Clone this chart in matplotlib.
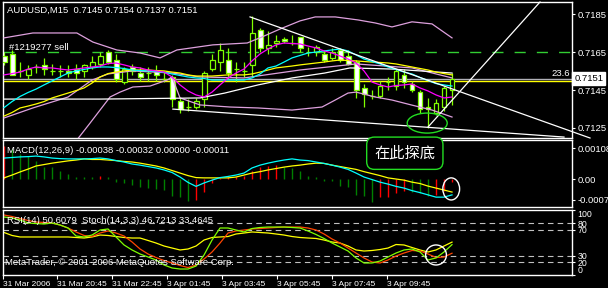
import numpy as np
import matplotlib
matplotlib.use("Agg")
import matplotlib.pyplot as plt
from matplotlib.patches import Ellipse

plt.rcParams['font.family'] = ['Liberation Sans', 'DejaVu Sans']
plt.rcParams['lines.scale_dashes'] = False

# AUDUSD M15 candles
opens = [.7163, .7164, .7155, .7153, .7157, .7158, .7155, .7155, .7155, .7156,
         .7155, .7157, .7159, .7165, .7161, .7149, .7157, .7154, .7154, .7155,
         .7151, .7152, .7139, .7136, .7136, .7140, .7156, .7160, .7161, .7156,
         .7155, .7158, .7177, .7167, .7170, .7172, .7170, .7173, .7165, .7165,
         .7164, .7162, .7166, .7163, .7160, .7146, .7142, .7142, .7149, .7147,
         .7153, .7148, .7144, .7136, .7133, .7136, .7145]
highs = [.7165, .7166, .7160, .7158, .7159, .7162, .7159, .7158, .7158, .7159,
         .7159, .7163, .7165, .7166, .7164, .7157, .7159, .7157, .7157, .7158,
         .7155, .7153, .7141, .7140, .7141, .7155, .7164, .7170, .7167, .7160,
         .7160, .7184, .7178, .7176, .7174, .7173, .7174, .7173, .7168, .7169,
         .7166, .7167, .7167, .7166, .7161, .7148, .7145, .7150, .7152, .7156,
         .7156, .7150, .7145, .7141, .7140, .7147, .7154]
lows = [.7158, .7153, .7152, .7151, .7154, .7153, .7153, .7152, .7152, .7151,
        .7152, .7156, .7157, .7159, .7149, .7148, .7153, .7150, .7150, .7150,
        .7149, .7136, .7133, .7134, .7135, .7136, .7155, .7155, .7151, .7149,
        .7152, .7152, .7165, .7164, .7168, .7170, .7169, .7165, .7163, .7163,
        .7160, .7161, .7160, .7158, .7141, .7136, .7140, .7141, .7145, .7145,
        .7146, .7144, .7133, .7125, .7132, .7134, .7137]
closes = [.7160, .7153, .7155, .7156, .7157, .7156, .7155, .7155, .7154, .7154,
          .7158, .7160, .7163, .7160, .7151, .7156, .7155, .7152, .7154, .7153,
          .7151, .7140, .7135, .7136, .7139, .7154, .7161, .7166, .7154, .7156,
          .7155, .7175, .7167, .7169, .7171, .7171, .7170, .7167, .7165, .7168,
          .7161, .7165, .7161, .7159, .7145, .7143, .7142, .7147, .7149, .7155,
          .7149, .7145, .7135, .7135, .7138, .7146, .7151]

# moving averages on the price chart
ma_magenta = [.71530, .71537, .71545, .71561, .71572, .71567, .71567, .71561, .71556, .71561,
              .71567, .71572, .71577, .71590, .71593, .71583, .71572, .71567, .71556, .71551,
              .71545, .71519, .71477, .71445, .71424, .71413, .71439, .71477, .71514, .71540,
              .71561, .71604, .71641, .71667, .71689, .71699, .71696, .71694, .71683, .71673,
              .71657, .71646, .71630, .71614, .71593, .71551, .71492, .71477, .71466, .71474,
              .71477, .71482, .71461, .71445, .71424, .71408, .71413]
ma_cyan = [.71357, .71389, .71416, .71437, .71455, .71477, .71498, .71519, .71540, .71551,
           .71559, .71567, .71572, .71572, .71569, .71564, .71556, .71553, .71551, .71548,
           .71543, .71535, .71527, .71519, .71514, .71511, .71503, .71503, .71503, .71503,
           .71503, .71514, .71535, .71567, .71577, .71598, .71620, .71633, .71646, .71651,
           .71657, .71662, .71667, .71657, .71636, .71614, .71601, .71588, .71572, .71559,
           .71545, .71535, .71516, .71500, .71484, .71477, .71471]
ma_yellow = [.71312, .71331, .71355, .71365, .71376, .71389, .71408, .71421, .71434, .71447,
             .71461, .71487, .71519, .71537, .71545, .71551, .71556, .71556, .71556, .71553,
             .71551, .71545, .71540, .71530, .71524, .71524, .71524, .71527, .71530, .71530,
             .71530, .71535, .71545, .71556, .71567, .71572, .71577, .71583, .71588, .71593,
             .71598, .71604, .71609, .71606, .71604, .71601, .71598, .71596, .71593, .71588,
             .71580, .71572, .71564, .71556, .71545, .71537, .71530]
plum_bar = [0, 3.6, 8, 11, 13, 16, 21, 24.5, 30, 37, 44, 51, 56]
plum_val = [.71302, .71355, .71413, .71503, .71535, .71551, .71540, .71519, .71514,
            .71556, .71588, .71567, .71514]
white_bar = [0, 12, 24.5, 27.6, 31.75, 36, 40.1, 43.25, 48.5, 56]
white_val = [.71402, .71402, .71408, .71434, .71477, .71514, .71540, .71567, .71561, .71540]
bb_up_bar = [0, 3.6, 7.4, 9.1, 11.1, 14.1, 17, 19.5, 21.6, 26.1, 30.4, 32.25, 34.5, 37,
             38.9, 41.4, 44.25, 46.4, 48.5, 51, 53.5, 56]
bb_up_val = [.71726, .71752, .71752, .71752, .71704, .71662, .71646, .71620, .71662, .71689,
             .71699, .71731, .71773, .71816, .71837, .71837, .71821, .71805, .71784, .71811,
             .71800, .71726]
bb_lo_bar = [9, 10.75, 12, 13.25, 14.5, 16.1, 18.25, 20.4, 21, 22, 24.5, 28.25, 31.75, 36,
             39.75, 41.4, 43, 44, 46.4, 48.5, 51, 53.5, 56]
bb_lo_val = [.71180, .71275, .71344, .71413, .71439, .71466, .71471, .71503, .71519, .71408,
             .71371, .71360, .71355, .71344, .71360, .71397, .71434, .71439, .71413, .71397,
             .71370, .71344, .71307]

sell_price = 0.7165
bid_price = 0.7151
fibo_price = 0.7150

# trend lines drawn on the chart (bar, price) pairs
down_line = ([30.75, 73.25], [0.71837, 0.71196])
low_line = ([21.1, 70.0], [0.71349, 0.71201])
steep_line = ([53.0, 67.0], [0.71254, 0.71916])

# MACD(12,26,9)
macd_main = [74, 76, 78, 79, 81, 78, 74, 72, 71, 71, 71, 72, 74, 71, 65, 60, 53, 49, 44, 39,
             32, 23, 7, -12, -26, -14, -4, 5, 9, 14, 21, 39, 49, 56, 62, 67, 71, 67, 65, 60,
             55, 49, 42, 34, 21, 7, -2, -11, -18, -26, -32, -41, -48, -56, -64, -64, -56]
macd_signal = [4, 14, 25, 35, 46, 51, 56, 60, 64, 67, 71, 69, 69, 67, 65, 62, 60, 56, 51, 46,
               39, 30, 21, 12, 5, 4, 4, 4, 4, 7, 14, 21, 26, 32, 37, 42, 46, 49, 53, 56,
               55, 49, 44, 39, 34, 26, 19, 12, 4, 0, -4, -11, -16, -25, -32, -39, -46]
macd_hist = [116, 106, 88, 81, 64, 42, 42, 28, 18, 8, 8, 8, 11, 8, -10, -15, -21, -27, -32, -35,
             -39, -59, -65, -77, -74, -47, -14, 4, 6, 8, 12, 29, 41, 47, 50, 41, 38, 30, 11, 8,
             -6, -8, -24, -29, -56, -59, -82, -65, -62, -51, -44, -46, -49, -59, -55, -41, -11]

# RSI(14) and Stoch(14,3,3)
rsi = [65.4, 60.8, 58.5, 58.5, 58.5, 58.5, 58.5, 58.5, 58.5, 57.7,
       56.9, 58.5, 61.5, 60.8, 59.2, 57.7, 56.9, 56.9, 53.1, 49.2,
       44.6, 41.5, 38.5, 40.0, 44.6, 53.8, 57.7, 58.5, 59.2, 63.1,
       64.6, 66.2, 65.4, 64.6, 63.1, 61.5, 59.2, 57.7, 56.9, 56.2,
       53.8, 50.8, 49.2, 44.6, 38.5, 36.9, 37.7, 39.2, 41.5, 46.9,
       46.2, 42.3, 38.5, 35.4, 38.5, 44.6, 50.6]
stoch_main = [89.2, 87.7, 84.6, 80.0, 79.2, 78.5, 80.0, 76.9, 72.3, 60.0,
              58.5, 61.5, 69.2, 70.8, 58.5, 46.2, 38.5, 32.3, 27.7, 23.1,
              15.4, 10.8, 9.2, 9.2, 13.8, 30.8, 53.8, 72.3, 72.3, 69.2,
              66.2, 71.5, 73.1, 73.8, 73.8, 73.8, 73.1, 72.3, 67.7, 62.3,
              56.2, 49.2, 43.1, 36.9, 26.2, 18.5, 18.5, 21.5, 27.7, 33.8,
              38.5, 40.0, 35.4, 23.1, 26.2, 35.4, 46.7]
stoch_signal = [92.3, 90.0, 86.9, 83.8, 81.5, 80.8, 80.0, 76.9, 72.3, 66.2,
                60.8, 59.2, 64.6, 67.7, 64.6, 60.0, 50.8, 40.0, 32.3, 26.9,
                22.3, 18.5, 14.6, 11.5, 15.4, 24.6, 35.4, 49.2, 64.6, 67.7,
                69.2, 70.8, 71.5, 72.3, 73.1, 73.8, 73.8, 73.8, 72.3, 69.2,
                63.1, 55.4, 49.2, 41.5, 33.8, 26.2, 20.0, 18.5, 23.1, 29.2,
                33.8, 37.7, 36.9, 32.3, 26.9, 27.7, 33.5]
rsi_levels = [80, 70, 30, 20]

time_ticks = [-0.16, 6.59, 13.46, 20.34, 27.21, 34.09, 41.04, 47.91]
time_labels = ['31 Mar 2006', '31 Mar 20:45', '31 Mar 22:45', '3 Apr 01:45',
               '3 Apr 03:45', '3 Apr 05:45', '3 Apr 07:45', '3 Apr 09:45']

LIME = '#80FF00'
FS = 6.8

W, H = 608, 288
def box(l, t, r, b):
    return [l / W, 1 - b / H, (r - l) / W, (b - t) / H]

fig = plt.figure(figsize=(6.08, 2.88), dpi=100, facecolor='black')
ax1 = fig.add_axes(box(2.7, 2, 572, 138))
ax2 = fig.add_axes(box(2.7, 140, 572, 207))
ax3 = fig.add_axes(box(2.7, 210, 572, 275))

for ax in (ax1, ax2, ax3):
    ax.set_facecolor('black')
    for s in ax.spines.values():
        s.set_color('white')
        s.set_linewidth(1.0)
    ax.set_xlim(-0.17, 71.0)
    ax.yaxis.tick_right()
    ax.tick_params(axis='y', colors='white', labelsize=FS, length=2.5, width=0.8,
                   direction='out', pad=1.5)
    ax.tick_params(axis='x', bottom=False, labelbottom=False)

x = np.arange(len(opens))

# ---- price chart ----
ax1.set_ylim(0.71196, 0.71916)
ax1.axhline(sell_price, color='#32CD32', lw=1, dashes=(8, 8), zorder=1)
ax1.axhline(fibo_price, color='#FFFF00', lw=1, zorder=1)
ax1.axhline(bid_price, color='#B0B0B8', lw=1, zorder=1)

o = np.array(opens); c = np.array(closes)
ax1.vlines(x, lows, highs, color=LIME, lw=0.9, zorder=2)
bull = c >= o
ax1.bar(x, np.abs(c - o), bottom=np.minimum(o, c), width=0.62,
        color=np.where(bull, 'black', 'white'), edgecolor=LIME, linewidth=0.9, zorder=3)

ax1.plot(bb_up_bar, bb_up_val, color='#DDA0DD', lw=0.9, zorder=4)
ax1.plot(bb_lo_bar, bb_lo_val, color='#DDA0DD', lw=0.9, zorder=4)
ax1.plot(plum_bar, plum_val, color='#DDA0DD', lw=0.9, zorder=4)
ax1.plot(white_bar, white_val, color='white', lw=0.9, zorder=4)
ax1.plot(x, ma_yellow, color='#FFFF00', lw=0.9, zorder=4)
ax1.plot(x, ma_cyan, color='#00FFFF', lw=0.9, zorder=4)
ax1.plot(x, ma_magenta, color='#FF00FF', lw=0.9, zorder=4)
ax1.plot(*down_line, color='white', lw=0.9, zorder=6, clip_on=False)
ax1.plot(*low_line, color='white', lw=0.9, zorder=4)
ax1.plot(*steep_line, color='white', lw=0.9, zorder=6, clip_on=False)
ax1.add_patch(Ellipse((52.9, 0.71275), 5.0, 0.00106, fill=False, ec='#22DD22', lw=1, zorder=6))

ax1.set_yticks([0.7185, 0.7165, 0.7145, 0.7125])
ax1.set_yticklabels(['0.7185', '0.7165', '0.7145', '0.7125'])
ax1.text(0.0076, 0.936, 'AUDUSD,M15  0.7145 0.7154 0.7137 0.7151', color='white',
         fontsize=FS, transform=ax1.transAxes, va='center', ha='left')
ax1.text(0.6, 0.71675, '#1219277 sell', color='white', fontsize=FS, va='center')
ax1.text(70.7, bid_price + 0.00003, '23.6', color='white', fontsize=FS, ha='right', va='bottom')
ax1.text(1.004, bid_price, '0.7151', color='black', fontsize=FS, va='center', ha='left',
         transform=ax1.get_yaxis_transform(),
         bbox=dict(boxstyle='square,pad=0.2', fc='white', ec='white'))

# ---- MACD ----
ax2.set_ylim(-0.000988, 0.001377)
hist = np.array(macd_hist) * 1e-5
cols = ['#FF0000'] + ['#FF0000' if hist[i] > hist[i - 1] else '#008000' for i in range(1, len(hist))]
ax2.vlines(x, 0, hist, colors=cols, lw=1.0)
ax2.plot(x, np.array(macd_signal) * 1e-5, color='#FFFF00', lw=0.9)
ax2.plot(x, np.array(macd_main) * 1e-5, color='#00FFFF', lw=0.9)
ax2.set_yticks([0.00108, 0.0, -0.00074])
ax2.set_yticklabels(['0.00108', '0.00', '-0.00074'])
ax2.text(0.0076, 0.84, 'MACD(12,26,9) -0.00038 -0.00032 0.00000 -0.00011', color='white',
         fontsize=FS, transform=ax2.transAxes, va='center', ha='left')
ax2.text(50.1, 0.00091, '在此探底', color='white', fontsize=11, ha='center', va='center',
         family=['Noto Sans CJK SC'], zorder=10, clip_on=False,
         bbox=dict(boxstyle='round,pad=0.5,rounding_size=0.5', fc='black', ec='#22DD22', lw=1))
ax2.add_patch(Ellipse((55.9, -0.00035), 2.1, 0.00078, fill=False, ec='white', lw=1, zorder=6))

# ---- RSI / Stochastic ----
ax3.set_ylim(0, 100)
for lv in rsi_levels:
    ax3.axhline(lv, color='#C0C0C0', lw=0.8, dashes=(4, 3))
ax3.plot(x, rsi, color='#FFFF00', lw=0.9)
ax3.plot(x, stoch_signal, color='#FF4500', lw=0.9)
ax3.plot(x, stoch_main, color='#7FFF00', lw=0.9)
ax3.add_patch(Ellipse((54.0, 30.8), 2.6, 30.8, fill=False, ec='white', lw=1, zorder=6))
ax3.set_yticks([100, 80, 70, 30, 20, 0])
ax3.set_yticklabels(['100', '80', '70', '30', '20', '0'])
ax3.tick_params(axis='y', labelsize=6.3)
tl = ax3.get_yticklabels()
tl[0].set_va('top')
tl[-1].set_va('bottom')
ax3.text(0.0076, 0.846, 'RSI(14) 50.6079  Stoch(14,3,3) 46.7213 33.4645', color='white',
         fontsize=FS, transform=ax3.transAxes, va='center', ha='left')
ax3.text(0.004, 0.185, 'MetaTrader, \u00a9 2001-2006 MetaQuotes Software Corp.', color='white',
         fontsize=FS, transform=ax3.transAxes, va='center', ha='left')
ax3.tick_params(axis='x', bottom=True, labelbottom=True, colors='white', labelsize=6,
                length=3, width=0.8, direction='out', pad=1)
ax3.set_xticks(time_ticks)
ax3.set_xticklabels(time_labels, ha='left')

fig.savefig('out.png', dpi=100, facecolor='black')
